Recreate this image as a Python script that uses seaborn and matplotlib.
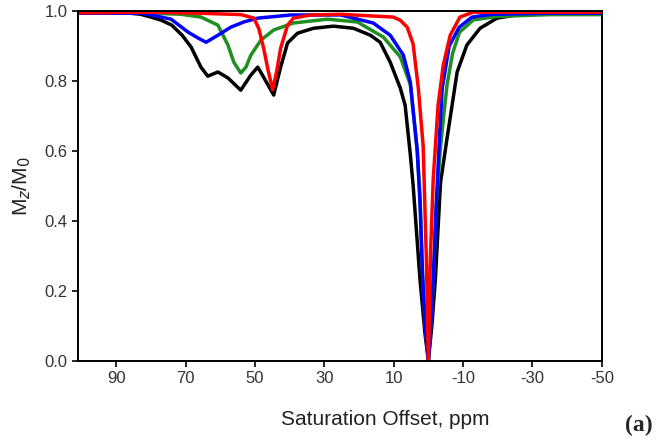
import matplotlib
matplotlib.use("Agg")
import matplotlib.pyplot as plt
import pandas as pd
import seaborn as sns

# Z-spectra (offset in ppm, Mz/M0)
black_x = [101, 86, 83, 80, 77, 74, 71, 68.4, 65.6, 63.6, 60.7, 57.8, 54.1, 51.2, 49.2, 47.5,
           44.6, 42.6, 40.6, 37.7, 33.1, 27.4, 21.6, 16.7, 13.9, 11.0, 8.1, 6.7, 5.2, 4.4, 2.4,
           1.0, 0.0, -1.0, -2.0, -3.5, -5.4, -8.3, -11.1, -14.9, -19.8, -26.4, -38, -50]
black_y = [0.997, 0.994, 0.991, 0.983, 0.974, 0.96, 0.931, 0.897, 0.84, 0.814, 0.826, 0.809,
           0.774, 0.817, 0.84, 0.811, 0.76, 0.84, 0.909, 0.937, 0.951, 0.957, 0.951, 0.931,
           0.911, 0.854, 0.78, 0.731, 0.589, 0.503, 0.231, 0.08, 0.0, 0.1, 0.231, 0.51, 0.637,
           0.826, 0.903, 0.951, 0.98, 0.991, 0.997, 0.997]

green_x = [101, 79.9, 71.3, 65.6, 60.7, 57.8, 56.1, 54.1, 52.6, 51.2, 48.3, 44.6, 38.9, 29.1,
           20.5, 13.0, 8.1, 5.2, 3.2, 2.4, 1.7, 0.9, 0.0, -0.7, -1.4, -2.3, -3.4, -4.3, -5.4,
           -7.0, -9.0, -13.0, -20.0, -35.0, -50.0]
green_y = [0.994, 0.994, 0.991, 0.983, 0.96, 0.903, 0.854, 0.823, 0.84, 0.874, 0.917, 0.946,
           0.966, 0.977, 0.969, 0.926, 0.869, 0.79, 0.6, 0.47, 0.25, 0.1, 0.0, 0.1, 0.22, 0.45,
           0.6, 0.69, 0.79, 0.88, 0.94, 0.975, 0.985, 0.99, 0.99]

blue_x = [101, 82.8, 79.9, 74.2, 69.3, 66.4, 64.1, 60.7, 57.0, 53.2, 49.2, 39.7, 25.3, 15.9,
          11.0, 7.2, 5.2, 3.2, 2.4, 1.7, 0.9, 0.0, -0.7, -1.4, -2.3, -3.2, -4.0, -6.0, -8.9,
          -12.6, -18.4, -35, -50]
blue_y = [0.994, 0.994, 0.989, 0.977, 0.94, 0.923, 0.911, 0.931, 0.954, 0.969, 0.98, 0.989,
          0.989, 0.966, 0.931, 0.874, 0.797, 0.6, 0.45, 0.25, 0.1, 0.0, 0.1, 0.23, 0.45, 0.637,
          0.78, 0.9, 0.954, 0.983, 0.991, 0.994, 0.994]

red_x = [101, 80, 66, 54, 50.3, 48.9, 47.5, 46.2, 44.9, 43.7, 42.6, 40.6, 38.9, 34, 25.3, 15.9,
         10.1, 8.1, 6.1, 4.4, 2.9, 1.5, 0.6, 0.0, -0.6, -1.4, -2.8, -4.3, -6.3, -9.1, -12.9,
         -30, -50]
red_y = [0.995, 0.997, 0.994, 0.99, 0.98, 0.95, 0.894, 0.83, 0.775, 0.83, 0.894, 0.96, 0.98,
         0.989, 0.991, 0.986, 0.983, 0.974, 0.954, 0.906, 0.78, 0.614, 0.3, 0.0, 0.3, 0.52,
         0.731, 0.846, 0.931, 0.983, 0.997, 0.997, 0.997]

x_ticks = [90, 70, 50, 30, 10, -10, -30, -50]
y_ticks = [0.0, 0.2, 0.4, 0.6, 0.8, 1.0]

series = [
    (black_x, black_y, "black"),
    (green_x, green_y, "#1f8f1f"),
    (blue_x, blue_y, "#0000ff"),
    (red_x, red_y, "#ff0000"),
]

sns.set_style("ticks")
plt.rcParams["font.family"] = ["Liberation Sans", "DejaVu Sans"]

fig = plt.figure(figsize=(6.62, 4.45), dpi=100)
ax = fig.add_axes([0.118, 0.189, 0.791, 0.786])

for xs, ys, col in series:
    df = pd.DataFrame({"offset": xs, "mz": ys})
    sns.lineplot(data=df, x="offset", y="mz", color=col, lw=2.5, ax=ax, sort=False)

ax.set_xlim(101, -50)
ax.set_ylim(0, 1.0)
ax.set_xticks(x_ticks)
ax.set_xticklabels([str(t) for t in x_ticks])
ax.set_yticks(y_ticks)
ax.set_yticklabels([f"{t:.1f}" for t in y_ticks])
ax.tick_params(axis="both", direction="out", length=4, width=1.2, labelsize=12,
               colors="black", labelcolor="#333333")
ax.tick_params(axis="x", pad=3)
for s in ax.spines.values():
    s.set_linewidth(1.4)
    s.set_color("black")

ax.set_xlabel("Saturation Offset, ppm", fontsize=15, color="#222222")
ax.xaxis.set_label_coords(0.586, -0.14)
ax.set_ylabel("M$_z$/M$_0$", fontsize=15, color="#222222", labelpad=8)

fig.text(0.965, 0.045, "(a)", fontsize=17, fontweight="bold",
         family=["Liberation Serif", "DejaVu Serif"], ha="center", va="center")

fig.savefig("out.png", dpi=100)
